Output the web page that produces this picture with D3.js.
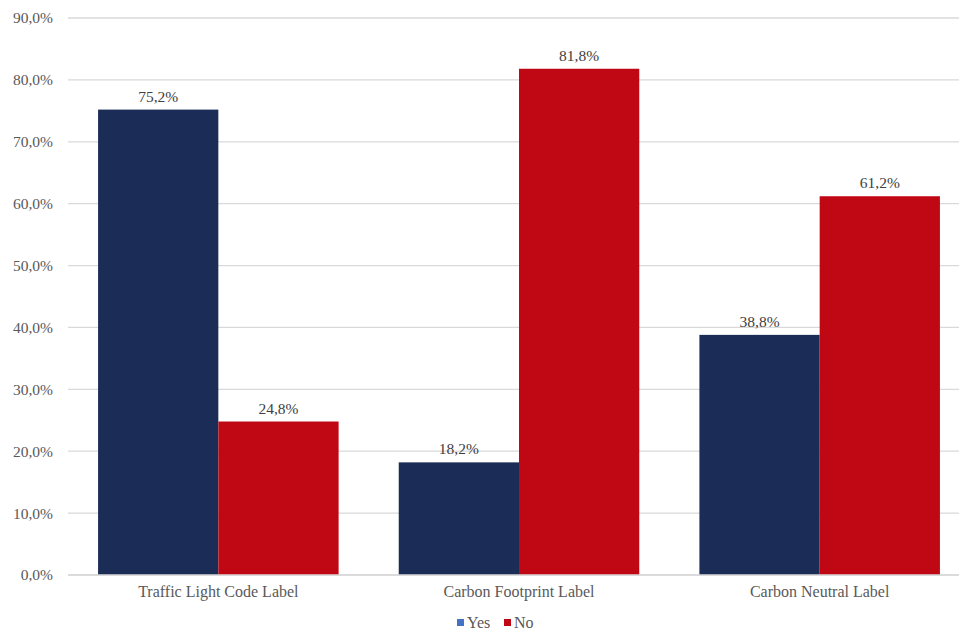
<!DOCTYPE html>
<html>
<head>
<meta charset="utf-8">
<script src="https://cdn.jsdelivr.net/npm/d3@7"></script>
<style>
  html, body { margin: 0; padding: 0; background: #fff; }
  svg { display: block; }
  svg text { font-family: "Liberation Serif", "Times New Roman", Times, serif !important; }
</style>
</head>
<body>
<svg id="chart" width="959" height="635"></svg>
<script>
const categories = ["Traffic Light Code Label", "Carbon Footprint Label", "Carbon Neutral Label"];
const seriesNames = ["Yes", "No"];
const yesValues = [75.2, 18.2, 38.8];
const noValues = [24.8, 81.8, 61.2];
const yTicks = [0, 10, 20, 30, 40, 50, 60, 70, 80, 90];

const barColors = { Yes: "#1b2d57", No: "#c00815" };
const legendColors = { Yes: "#4472c4", No: "#c00815" };
const FONT = "'Liberation Serif', 'Times New Roman', serif";

const svg = d3.select("#chart");
const W = 959, H = 635;
const margin = { left: 68, right: -11, top: 18, bottom: 60 };

const x0 = d3.scaleBand()
  .domain(categories)
  .range([margin.left, W - margin.right])
  .paddingInner(0)
  .paddingOuter(0);

const x1 = d3.scaleBand()
  .domain(seriesNames)
  .range([0, x0.bandwidth()])
  .paddingInner(0)
  .paddingOuter(0.25);

const y = d3.scaleLinear()
  .domain([0, 90])
  .range([H - margin.bottom, margin.top]);

const fmt = v => d3.format(".1f")(v).replace(".", ",") + "%";

// horizontal gridlines
svg.append("g")
  .selectAll("line")
  .data(yTicks)
  .join("line")
  .attr("x1", margin.left)
  .attr("x2", W)
  .attr("y1", d => y(d))
  .attr("y2", d => y(d))
  .attr("stroke", "#d9d9d9")
  .attr("stroke-width", 1.3);

// y axis labels
const yAxis = d3.axisLeft(y).tickValues(yTicks).tickSize(0).tickPadding(15).tickFormat(fmt);
const gy = svg.append("g").attr("transform", `translate(${margin.left},0)`).call(yAxis);
gy.attr("font-family", FONT);
gy.select(".domain").remove();
gy.selectAll("text")
  .attr("fill", "#595959")
  .style("font-size", "15.5px");

const rows = categories.map((c, i) => ({ category: c, Yes: yesValues[i], No: noValues[i] }));

const groups = svg.append("g")
  .selectAll("g")
  .data(rows)
  .join("g")
  .attr("transform", d => `translate(${x0(d.category)},0)`);

groups.selectAll("rect")
  .data(d => seriesNames.map(s => ({ s, v: d[s] })))
  .join("rect")
  .attr("x", d => x1(d.s))
  .attr("width", x1.bandwidth())
  .attr("y", d => y(d.v))
  .attr("height", d => y(0) - y(d.v))
  .attr("fill", d => barColors[d.s]);

groups.selectAll("text.val")
  .data(d => seriesNames.map(s => ({ s, v: d[s] })))
  .join("text")
  .attr("class", "val")
  .attr("x", d => x1(d.s) + x1.bandwidth() / 2)
  .attr("y", d => y(d.v) - 8)
  .attr("text-anchor", "middle")
  .attr("fill", "#404040")
  .attr("font-family", FONT)
  .style("font-size", "15.5px")
  .text(d => fmt(d.v));

// baseline
svg.append("line")
  .attr("x1", margin.left).attr("x2", W)
  .attr("y1", y(0)).attr("y2", y(0))
  .attr("stroke", "#d9d9d9").attr("stroke-width", 1.5);

// category labels
const xAxis = d3.axisBottom(x0).tickSize(0).tickPadding(11);
const gx = svg.append("g").attr("transform", `translate(0,${y(0)})`).call(xAxis);
gx.attr("font-family", FONT);
gx.select(".domain").remove();
gx.selectAll("text")
  .attr("fill", "#595959")
  .style("font-size", "16px");

// legend
const legend = svg.append("g").attr("transform", "translate(457,623)");
const items = [{ s: "Yes", x: 0 }, { s: "No", x: 47 }];
const li = legend.selectAll("g").data(items).join("g").attr("transform", d => `translate(${d.x},0)`);
li.append("rect").attr("x", 0).attr("y", -4).attr("width", 7).attr("height", 7).attr("fill", d => legendColors[d.s]);
li.append("text").attr("x", 10).attr("y", 5)
  .attr("font-family", FONT)
  .attr("fill", "#595959").style("font-size", "16px").text(d => d.s);
</script>
</body>
</html>
